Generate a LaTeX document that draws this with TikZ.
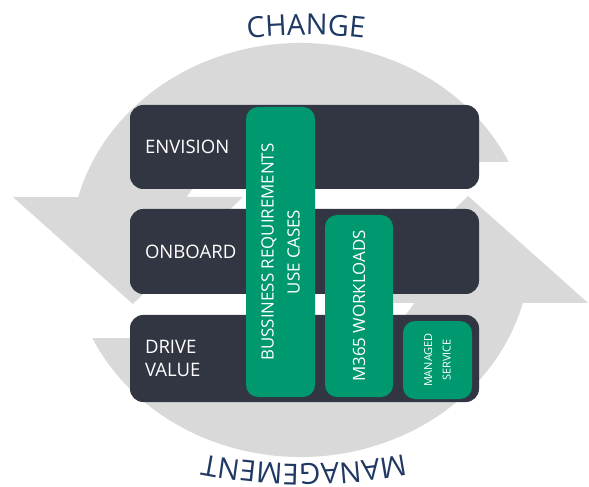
\documentclass[tikz,border=0pt]{standalone}
\usepackage{fontspec}
\setmainfont{Open Sans}
\usepackage{tikz}
\usetikzlibrary{decorations.text}

\definecolor{arrowgray}{HTML}{D9D9D9}
\definecolor{barslate}{HTML}{323642}
\definecolor{stagegreen}{HTML}{00996F}
\definecolor{titlenavy}{HTML}{1F3864}
\newcommand{\wordartfont}{\fontsize{20.6}{24}\selectfont\color{titlenavy}}

\begin{document}
\begin{tikzpicture}[
	phase/.style={fill=barslate, rounded corners=0.33cm, text=white, align=left,
		font=\fontsize{13.2}{16.4}\selectfont, inner xsep=0.375cm, inner ysep=0pt,
		text width=7.975cm},
	block/.style={fill=stagegreen, rounded corners=0.3cm, text=white, align=center,
		rotate=90, inner sep=0pt, font=\fontsize{12}{18.5}\selectfont}]
			%		\draw [thin, help lines] (0,0) grid (15,12);
			\useasboundingbox (0,0) rectangle (14.725,12.15);
			\fill[white] (0,0) rectangle (14.725,12.15);
			%%% Frecce grigie
			\begin{scope}[shift={(7.5125,5.9)}]
				\foreach \turn in {0,180}
				\fill[arrowgray, rotate=\turn] (5.203,2.203)
					arc[start angle=25.2, end angle=165.2, x radius=5.75, y radius=5.175]
					-- (-7.19,1.325) -- (-4.19,-1.35) -- (-1.44,1.325) -- (-2.848,1.325)
					arc[start angle=151.2, end angle=53.1, x radius=3.25, y radius=2.75]
					-- cycle;
			\end{scope}
			%%% Fasi
			\node[phase, minimum height=2.1cm] (envision) at (7.6125,8.475) {ENVISION};
			\node[phase, minimum height=2.125cm] (onboard) at (7.6125,5.8625) {ONBOARD};
			\node[phase, minimum height=2.175cm] (drivevalue) at (7.6125,3.1875) {DRIVE\\VALUE};
			%%% Blocchi verdi
			\node[block, minimum width=7.25cm, minimum height=1.725cm] (usecases) at (7.0125,5.85)
				{BUSSINESS REQUIREMENTS\\USE CASES};
			\node[block, minimum width=4.55cm, minimum height=1.7cm] (workloads) at (8.975,4.5)
				{M365 WORKLOADS};
			\node[block, minimum width=1.95cm, minimum height=1.725cm,
				font=\fontsize{7.8}{13.2}\selectfont] (managed) at (10.9375,3.15)
				{MANAGED\\SERVICE};
			%%% Scritte ad arco
			\path[decorate, decoration={text along path, text align=center,
				text={|\wordartfont|CHANGE}}]
				(7.65,-1.725) ++(110:13) arc[start angle=110, end angle=70, radius=13];
			\path[decorate, decoration={text along path, text align=center,
				text={|\wordartfont|MANAGEMENT}}]
				(7.6,13.55) ++(-70:13) arc[start angle=-70, end angle=-110, radius=13];
		\end{tikzpicture}
\end{document}
